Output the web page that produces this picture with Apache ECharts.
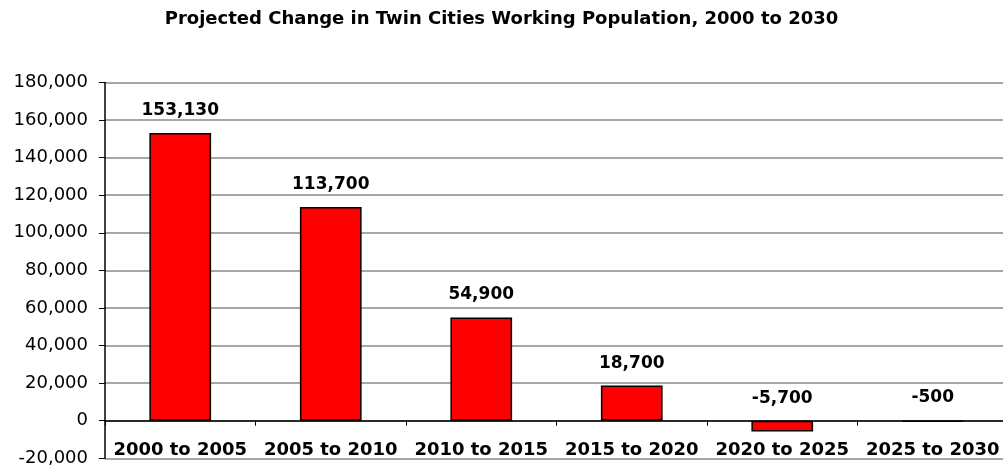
<!DOCTYPE html>
<html>
<head>
<meta charset="utf-8">
<title>Projected Change in Twin Cities Working Population, 2000 to 2030</title>
<script src="https://cdn.jsdelivr.net/npm/echarts@6/dist/echarts.min.js"></script>
<style>
  html, body { margin: 0; padding: 0; background: #fff; }
  #chart { width: 1003px; height: 469px; }
</style>
</head>
<body>
<div id="chart"></div>
<script>
// Five-year periods and the projected change in working population for each
const periods = ['2000 to 2005', '2005 to 2010', '2010 to 2015', '2015 to 2020', '2020 to 2025', '2025 to 2030'];
const popChange = [153130, 113700, 54900, 18700, -5700, -500];

// Value axis range
const yMin = -20000;
const yMax = 180000;
const yStep = 20000;

const FONT = 'DejaVu Sans';
const fmt = v => v.toLocaleString('en-US');

const chart = echarts.init(document.getElementById('chart'), null, { renderer: 'canvas' });

chart.setOption({
  animation: false,
  backgroundColor: '#ffffff',
  title: {
    text: 'Projected Change in Twin Cities Working Population, 2000 to 2030',
    left: 'center',
    top: 10,
    padding: 0,
    textStyle: { fontFamily: FONT, fontWeight: 'bold', fontSize: 18, color: '#000' }
  },
  grid: { left: 105, right: -5, top: 82.5, bottom: 10.7, containLabel: false, outerBoundsMode: 'none' },
  xAxis: {
    type: 'category',
    data: periods,
    boundaryGap: true,
    axisLine: { onZero: true, lineStyle: { color: '#000', width: 1.5 } },
    axisTick: { show: true, alignWithLabel: false, length: 5, lineStyle: { color: '#000', width: 1 } },
    axisLabel: {
      interval: 0,
      inside: true,
      margin: -1,
      fontFamily: FONT,
      fontWeight: 'bold',
      fontSize: 18,
      color: '#000'
    },
    splitLine: { show: false }
  },
  yAxis: {
    type: 'value',
    min: yMin,
    max: yMax,
    interval: yStep,
    axisLine: { show: true, lineStyle: { color: '#000', width: 1.5 } },
    axisTick: { show: true, length: 6, lineStyle: { color: '#000', width: 1 } },
    axisLabel: {
      margin: 17,
      fontFamily: FONT,
      fontSize: 18,
      color: '#000',
      formatter: v => fmt(v)
    },
    splitLine: { show: true, lineStyle: { color: '#8a8a8a', width: 1.5 } }
  },
  series: [{
    type: 'bar',
    data: popChange,
    barWidth: '41%',
    itemStyle: { color: '#ff0000', borderColor: '#000', borderWidth: 1.5 },
    label: {
      show: true,
      position: 'top',
      distance: 14,
      fontFamily: FONT,
      fontWeight: 'bold',
      fontSize: 17,
      color: '#000',
      formatter: p => fmt(p.value)
    }
  }]
});
</script>
</body>
</html>
